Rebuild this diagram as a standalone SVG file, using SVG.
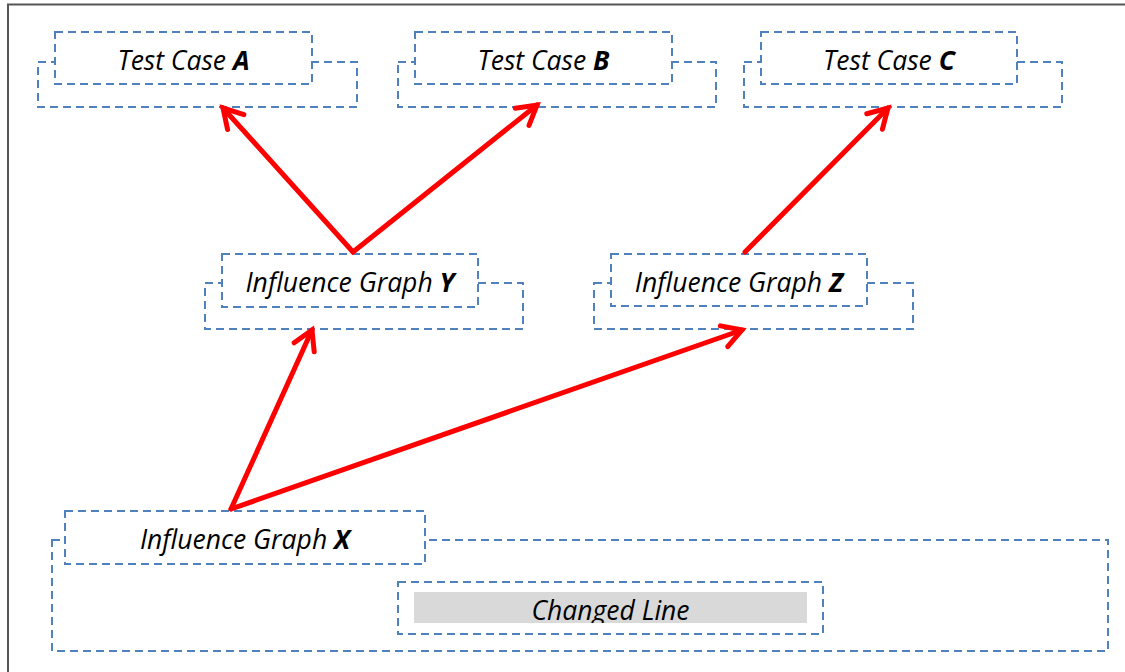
<svg xmlns="http://www.w3.org/2000/svg" width="1125" height="672" viewBox="0 0 1125 672">
<style>
.ob{fill:#fff;stroke:#4F81BD;stroke-width:2;stroke-dasharray:8 5}
.ib{fill:#fff;stroke:#4F81BD;stroke-width:2;stroke-dasharray:8 5}
.t{font-family:"Open Sans","Liberation Sans",sans-serif;font-style:italic;font-size:26.5px;fill:#000;text-anchor:middle}
.b{font-weight:bold}
.arr{fill:none;stroke:#FF0000;stroke-width:5;stroke-linecap:round;marker-end:url(#ah)}
</style>
<defs>
<marker id="ah" markerUnits="userSpaceOnUse" markerWidth="40" markerHeight="40" viewBox="-30 -20 40 40" refX="0" refY="0" orient="auto">
<path d="M-19,-11 L0,0 L-19,11" fill="none" stroke="#FF0000" stroke-width="5" stroke-linecap="round" stroke-linejoin="miter"/>
</marker>
<clipPath id="cl"><rect x="414" y="592" width="393" height="31"/></clipPath>
</defs>
<rect width="1125" height="672" fill="#fff"/>
<path d="M8,672 V4.5 H1125" fill="none" stroke="#555" stroke-width="2"/>

<g id="node-X">
<rect class="ob" x="52" y="540" width="1056" height="111"/>
<rect class="ib" x="65" y="511" width="360" height="53"/>
<text class="t" x="245" y="549">Influence Graph <tspan class="b">X</tspan></text>
</g>
<g id="node-changed">
<rect class="ib" x="398" y="582" width="425" height="52"/>
<rect x="414" y="592" width="393" height="31" fill="#D9D9D9"/>
<text class="t" x="610.5" y="620" clip-path="url(#cl)">Changed Line</text>
</g>
<g id="node-A">
<rect class="ob" x="38" y="62" width="319" height="45"/>
<rect class="ib" x="55" y="32" width="257" height="52"/>
<text class="t" x="183.5" y="70">Test Case <tspan class="b">A</tspan></text>
</g>
<g id="node-B">
<rect class="ob" x="398" y="62" width="318" height="45"/>
<rect class="ib" x="415" y="32" width="257" height="52"/>
<text class="t" x="543.5" y="70">Test Case <tspan class="b">B</tspan></text>
</g>
<g id="node-C">
<rect class="ob" x="744" y="62" width="318" height="45"/>
<rect class="ib" x="761" y="32" width="256" height="52"/>
<text class="t" x="889" y="70">Test Case <tspan class="b">C</tspan></text>
</g>
<g id="node-Y">
<rect class="ob" x="205" y="283" width="318" height="46"/>
<rect class="ib" x="222" y="254" width="256" height="53"/>
<text class="t" x="350" y="292">Influence Graph <tspan class="b">Y</tspan></text>
</g>
<g id="node-Z">
<rect class="ob" x="594" y="283" width="319" height="46"/>
<rect class="ib" x="611" y="254" width="256" height="52"/>
<text class="t" x="739" y="292">Influence Graph <tspan class="b">Z</tspan></text>
</g>

<g id="connectors">
<line class="arr" x1="353" y1="252" x2="223" y2="108"/>
<line class="arr" x1="353" y1="252" x2="537" y2="105"/>
<line class="arr" x1="745" y1="252" x2="888" y2="108"/>
<line class="arr" x1="231" y1="509" x2="312" y2="330"/>
<line class="arr" x1="231" y1="509" x2="742" y2="330"/>
</g>
</svg>
